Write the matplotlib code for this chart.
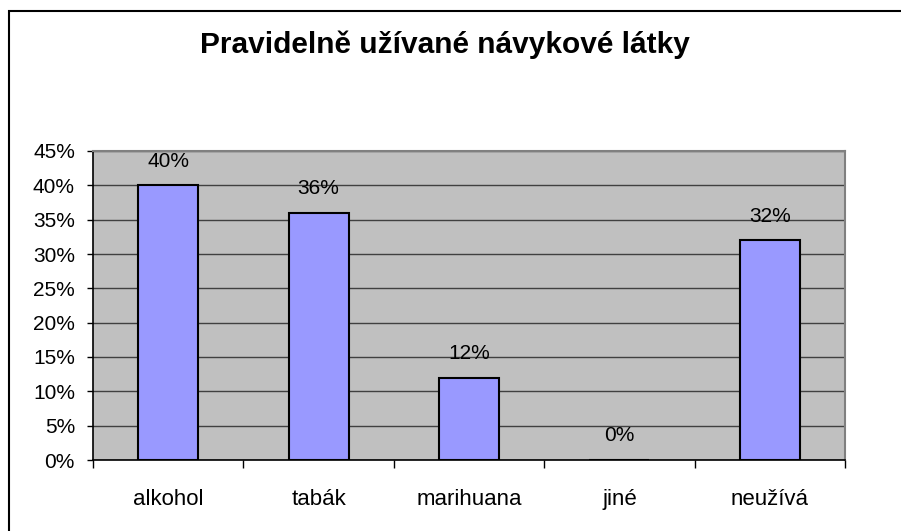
import matplotlib
matplotlib.use("Agg")
import matplotlib.pyplot as plt
from matplotlib.patches import Rectangle
from matplotlib.ticker import FuncFormatter, MultipleLocator

categories = ["alkohol", "tabák", "marihuana", "jiné", "neužívá"]
values = [40, 36, 12, 0, 32]
title = "Pravidelně užívané návykové látky"

plt.rcParams['font.family'] = ['Liberation Sans', 'DejaVu Sans']

W, H = 901, 531
fig = plt.figure(figsize=(W / 100, H / 100), dpi=100)

# outer chart border (runs off the right/bottom edge as in the reference)
fig.patches.append(Rectangle((9 / W, -0.1), 1.1, 1 - 11 / H + 0.1, transform=fig.transFigure,
                             fill=False, edgecolor='black', linewidth=1.5))

ax = fig.add_axes([93 / W, 1 - 460 / H, (845 - 93) / W, (460 - 151) / H])
ax.set_facecolor('#C0C0C0')

x = list(range(len(categories)))
ax.bar(x, values, width=0.4, color='#9999FF', edgecolor='black', linewidth=1.5, zorder=3)

for xi, v in zip(x, values):
    ax.annotate(f"{v}%", (xi, v), xytext=(0, 13.5), textcoords='offset points',
                ha='center', va='baseline', fontsize=15, zorder=4)

ax.set_xlim(-0.5, len(categories) - 0.5)
ax.set_ylim(0, 45)
ax.yaxis.set_major_locator(MultipleLocator(5))
ax.yaxis.set_major_formatter(FuncFormatter(lambda v, p: f"{int(round(v))}%"))
ax.grid(axis='y', color='#404040', linewidth=1.0, zorder=1)
ax.set_axisbelow(True)

ax.set_xticks([i - 0.5 for i in range(len(categories) + 1)])
ax.set_xticklabels([])
ax.set_xticks(x, minor=True)
ax.set_xticklabels(categories, minor=True)
ax.tick_params(axis='x', which='major', direction='out', length=6, width=1, color='black')
ax.tick_params(axis='x', which='minor', length=0, pad=21, labelsize=16)
ax.tick_params(axis='y', direction='out', length=4, width=1, pad=9, labelsize=15)

for s in ['left', 'bottom']:
    ax.spines[s].set_color('black')
    ax.spines[s].set_linewidth(1.2)
for s in ['top', 'right']:
    ax.spines[s].set_color('#808080')
    ax.spines[s].set_linewidth(1.5)

fig.text(445 / W, 1 - 53 / H, title, ha='center', va='baseline', fontsize=21.5, fontweight='bold')

fig.savefig("out.png", dpi=100)
